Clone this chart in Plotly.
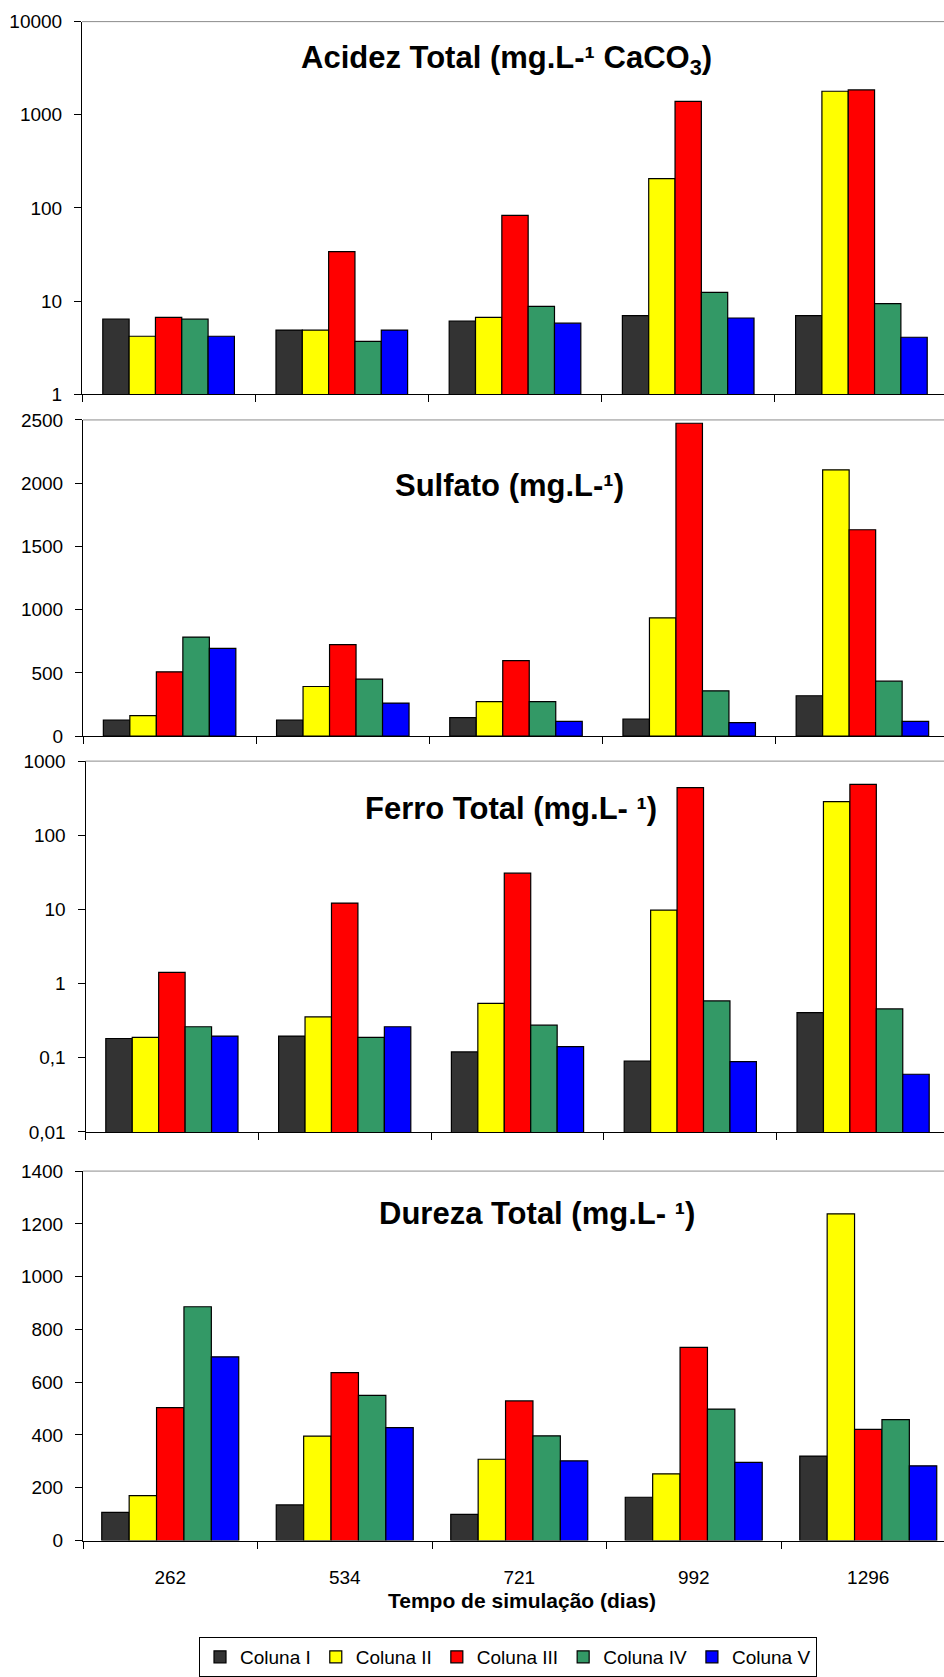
import plotly.graph_objects as go

# ---------------- data ----------------
days = ["262", "534", "721", "992", "1296"]
series_names = ["Coluna I", "Coluna II", "Coluna III", "Coluna IV", "Coluna V"]
series_colors = ["#333333", "#FFFF00", "#FF0000", "#339966", "#0000FF"]

acidez_I = [6.4, 4.9, 6.1, 7.0, 7.0]
acidez_II = [4.2, 4.9, 6.7, 207, 1790]
acidez_III = [6.7, 34, 83.5, 1390, 1850]
acidez_IV = [6.4, 3.7, 8.8, 12.4, 9.4]
acidez_V = [4.2, 4.9, 5.8, 6.6, 4.1]

sulfato_I = [128, 128, 147, 136, 320]
sulfato_II = [163, 393, 273, 936, 2106]
sulfato_III = [509, 724, 598, 2474, 1632]
sulfato_IV = [784, 451, 273, 359, 435]
sulfato_V = [695, 262, 118, 108, 118]

ferro_I = [0.182, 0.196, 0.120, 0.090, 0.407]
ferro_II = [0.188, 0.356, 0.543, 9.8, 284]
ferro_III = [1.42, 12.2, 30.8, 439, 486]
ferro_IV = [0.262, 0.188, 0.275, 0.584, 0.456]
ferro_V = [0.196, 0.262, 0.141, 0.089, 0.060]

dureza_I = [107, 135, 99, 164, 320]
dureza_II = [170, 396, 308, 253, 1238]
dureza_III = [504, 636, 529, 732, 421]
dureza_IV = [886, 550, 397, 498, 458]
dureza_V = [696, 428, 302, 296, 283]

acidez_ticks = [1, 10, 100, 1000, 10000]
acidez_ticktext = ["1", "10", "100", "1000", "10000"]
ferro_ticks = [0.01, 0.1, 1, 10, 100, 1000]
ferro_ticktext = ["0,01", "0,1", "1", "10", "100", "1000"]

titles = [
    "Acidez Total (mg.L-\u00b9 CaCO<sub>3</sub>)",
    "Sulfato (mg.L-\u00b9)",
    "Ferro Total (mg.L- \u00b9)",
    "Dureza Total (mg.L- \u00b9)",
]
x_title = "Tempo de simulação (dias)"

# ---------------- layout geometry (pixels) ----------------
W, H = 944, 1677
FONT = "Liberation Sans, Arial, sans-serif"

panels = [
    dict(data=[acidez_I, acidez_II, acidez_III, acidez_IV, acidez_V],
         x0=82.0, cw=173.2, bw=0.152, top=21.7, bot=396.0, tx=507, ty=60),
    dict(data=[sulfato_I, sulfato_II, sulfato_III, sulfato_IV, sulfato_V],
         x0=83.0, cw=173.2, bw=0.153, top=421.7, bot=739.3, tx=509.5, ty=488),
    dict(data=[ferro_I, ferro_II, ferro_III, ferro_IV, ferro_V],
         x0=85.5, cw=172.8, bw=0.153, top=764.3, bot=1136.7, tx=510.5, ty=812),
    dict(data=[dureza_I, dureza_II, dureza_III, dureza_IV, dureza_V],
         x0=83.0, cw=174.5, bw=0.157, top=1176.0, bot=1547.0, tx=537, ty=1219),
]

fig = go.Figure()
shapes = []
annotations = []

for p, pan in enumerate(panels):
    k = "" if p == 0 else str(p + 1)
    xa, ya = "x" + k, "y" + k
    bw = pan["bw"]
    for i, name in enumerate(series_names):
        fig.add_trace(go.Bar(
            x=days, y=pan["data"][i], name=name,
            marker=dict(color=series_colors[i], line=dict(color="black", width=1.2)),
            width=bw, offset=(i - 2.5) * bw,
            xaxis=xa, yaxis=ya, showlegend=(p == 0),
            legendrank=i,
        ))
    xdom = [pan["x0"] / W, 1.0]
    ydom = [1 - pan["bot"] / H, 1 - pan["top"] / H]
    xr = [-0.5, -0.5 + (W - pan["x0"]) / pan["cw"]]
    xaxis = dict(
        domain=xdom, range=xr, type="category", anchor=ya,
        showline=True, linecolor="black", linewidth=1,
        ticks="outside", ticklen=7, tickcolor="black", tickwidth=1,
        tickson="boundaries", showgrid=False, zeroline=False,
        showticklabels=(p == 3), tickfont=dict(family=FONT, size=19, color="black"),
        ticklabelstandoff=20, automargin=False, fixedrange=True,
    )
    yaxis = dict(
        domain=ydom, anchor=xa, showline=True, linecolor="black", linewidth=1,
        ticks="outside", ticklen=7, tickcolor="black", tickwidth=1,
        showgrid=False, zeroline=False,
        tickfont=dict(family=FONT, size=19, color="black"),
        ticklabelstandoff=8, automargin=False, fixedrange=True,
    )
    if p == 0:
        yaxis.update(type="log", range=[0, 4], tickvals=acidez_ticks, ticktext=acidez_ticktext)
    elif p == 1:
        yaxis.update(range=[0, 2500], tickmode="linear", tick0=0, dtick=500)
    elif p == 2:
        yaxis.update(type="log", range=[-2, 3], tickvals=ferro_ticks, ticktext=ferro_ticktext)
    else:
        yaxis.update(range=[0, 1400], tickmode="linear", tick0=0, dtick=200)
    fig.update_layout({"xaxis" + k: xaxis, "yaxis" + k: yaxis})

    # gray plot-area top border
    shapes.append(dict(type="line", xref="paper", yref="paper",
                       x0=xdom[0], x1=1.0, y0=ydom[1], y1=ydom[1],
                       line=dict(color="#8C8C8C", width=1)))
    annotations.append(dict(
        text=titles[p], xref="paper", yref="paper",
        x=pan["tx"] / W, y=1 - pan["ty"] / H, xanchor="center", yanchor="middle",
        showarrow=False, font=dict(family=FONT, size=31, color="black", weight="bold"),
    ))

annotations.append(dict(
    text="<b>" + x_title + "</b>", xref="paper", yref="paper",
    x=522 / W, y=1 - 1607 / H, xanchor="center", yanchor="middle",
    showarrow=False, font=dict(family=FONT, size=21, color="black"),
))

fig.update_layout(
    width=W, height=H,
    margin=dict(l=0, r=0, t=0, b=0, pad=0),
    paper_bgcolor="white", plot_bgcolor="white",
    barmode="overlay",
    font=dict(family=FONT, size=19, color="black"),
    shapes=shapes, annotations=annotations,
    showlegend=True,
    legend=dict(
        orientation="h", x=508 / W, xanchor="center",
        y=1 - 1644 / H, yanchor="top",
        bordercolor="black", borderwidth=1, bgcolor="white",
        font=dict(family=FONT, size=19, color="black"),
        traceorder="normal", itemwidth=30,
    ),
)

fig.write_html("out.html")
